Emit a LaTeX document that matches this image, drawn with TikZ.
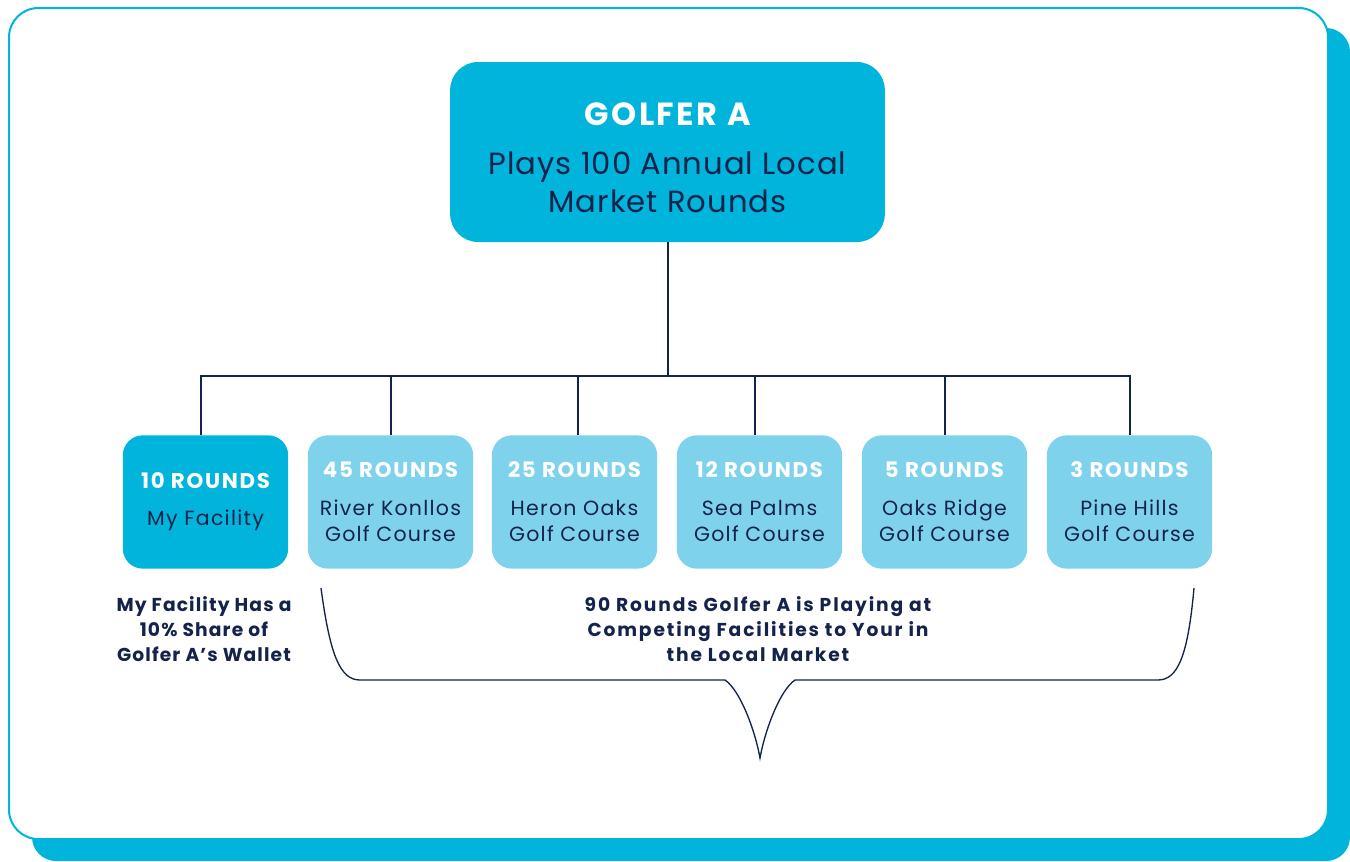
\documentclass[tikz,border=0pt]{standalone}
\usepackage{fontspec}
\setmainfont{Poppins}
\definecolor{cyanA}{HTML}{00B4DC}
\definecolor{lightB}{HTML}{7FD2EC}
\definecolor{navy}{HTML}{14234B}
\tikzset{
  topbox/.style={fill=cyanA, rounded corners=21pt, minimum width=326pt, minimum height=135pt, inner sep=0pt},
  toptext/.style={align=center, text=navy, inner sep=0pt, font=\fontsize{23}{28.5}\selectfont\addfontfeatures{LetterSpace=3.3}},
  smallbox/.style={rounded corners=15pt, minimum width=124pt, minimum height=100pt, inner sep=0pt, align=center, text=navy, font=\fontsize{15.4}{20}\selectfont\addfontfeatures{LetterSpace=6}},
  mine/.style={smallbox, fill=cyanA},
  other/.style={smallbox, fill=lightB},
  conn/.style={draw=navy, line width=1.5pt},
  note/.style={align=center, text=navy, font=\bfseries\fontsize{14}{19}\selectfont\addfontfeatures{LetterSpace=6}},
  widenote/.style={note, font=\bfseries\fontsize{14}{19}\selectfont\addfontfeatures{LetterSpace=10}},
  brace/.style={draw=navy, line width=1pt}
}
\newcommand{\bighead}[1]{\textcolor{white}{\bfseries\fontsize{24}{28.5}\selectfont\addfontfeatures{LetterSpace=8}#1}}
\newcommand{\rndhead}[1]{\textcolor{white}{\bfseries\fontsize{16}{20}\selectfont\addfontfeatures{LetterSpace=8}#1}}
\begin{document}
\begin{tikzpicture}[x=0.75pt,y=-0.75pt]
\useasboundingbox (0,0) rectangle (1350,861);
\fill[cyanA, rounded corners=18pt] (32,28) rectangle (1350,861);
\draw[cyanA, line width=1.5pt, fill=white, rounded corners=22pt] (9,8) rectangle (1328,839);

\node[topbox] (top) at (667.5,152) {};
\node[toptext] (toptxt) at (667.5,157.5) {\bighead{GOLFER A}\\[8.5pt]Plays 100 Annual Local\\Market Rounds};

\node[mine]  (b1) at (205.5,502) {\rndhead{10 ROUNDS}\\[8pt]My Facility};
\node[other] (b2) at (390.5,502) {\rndhead{45 ROUNDS}\\[8pt]River Konllos\\Golf Course};
\node[other] (b3) at (574.5,502) {\rndhead{25 ROUNDS}\\[8pt]Heron Oaks\\Golf Course};
\node[other] (b4) at (759.5,502) {\rndhead{12 ROUNDS}\\[8pt]Sea Palms\\Golf Course};
\node[other] (b5) at (944.5,502) {\rndhead{5 ROUNDS}\\[8pt]Oaks Ridge\\Golf Course};
\node[other] (b6) at (1129.5,502) {\rndhead{3 ROUNDS}\\[8pt]Pine Hills\\Golf Course};

\coordinate (bar) at (667.5,376);
\coordinate (c1) at ([xshift=-3.4pt]b1.north);
\coordinate (c2) at (b2.north);
\coordinate (c3) at ([xshift=2.6pt]b3.north);
\coordinate (c4) at ([xshift=-3.4pt]b4.north);
\coordinate (c5) at (b5.north);
\coordinate (c6) at (b6.north);
\draw[conn] (top.south) -- (bar);
\draw[conn] (c1) -- (c1 |- bar) -- (c6 |- bar) -- (c6);
\foreach \c in {c2,c3,c4,c5} \draw[conn] (\c) -- (\c |- bar);

\node[note] (n1) at (204,629) {My Facility Has a\\10\% Share of\\Golfer A’s Wallet};
\node[widenote] (n2) at (758,629) {90 Rounds Golfer A is Playing at\\Competing Facilities to Your in\\the Local Market};

\draw[brace] (321,588) .. controls (330,655) and (340,680) .. (360,680)
  -- (725,680) .. controls (740,690) and (755,730) .. (760,758)
  .. controls (765,730) and (780,690) .. (795,680)
  -- (1158,680) .. controls (1178,680) and (1188,655) .. (1194,588);
\end{tikzpicture}
\end{document}
